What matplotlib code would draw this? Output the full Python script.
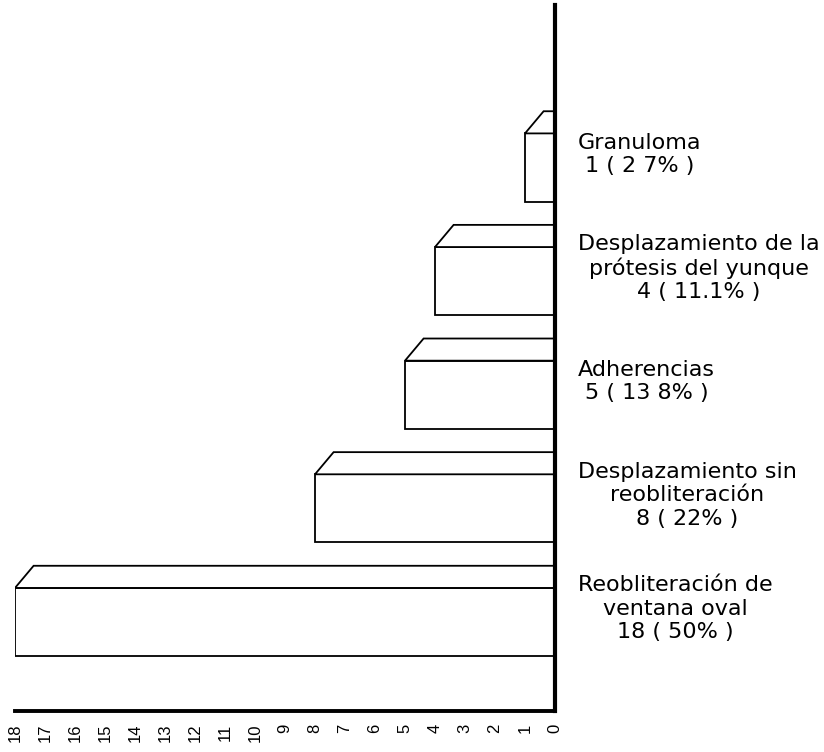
import matplotlib
matplotlib.use("Agg")
import matplotlib.pyplot as plt
from matplotlib.patches import Polygon

categories = [
    "Reobliteración de\nventana oval",
    "Desplazamiento sin\nreobliteración",
    "Adherencias",
    "Desplazamiento de la\nprótesis del yunque",
    "Granuloma",
]
values = [18, 8, 5, 4, 1]
pct_labels = ["18 ( 50% )", "8 ( 22% )", "5 ( 13 8% )", "4 ( 11.1% )", "1 ( 2 7% )"]
ticks = list(range(0, 19))

plt.rcParams['font.family'] = ['DejaVu Sans']

fig = plt.figure(figsize=(8.24, 7.52), dpi=100)
W, H = 824, 752
left_px, right_px, top_px, bot_px = 15, 555, 5, 711
ax = fig.add_axes([left_px / W, 1 - bot_px / H, (right_px - left_px) / W, (bot_px - top_px) / H])

ax.set_xlim(18, 0)
ax.set_ylim(-0.783, 5.43)

bar_h = 0.6
dx = 0.62
dy = 0.195
lw = 1.3

ys = list(range(len(values)))
ax.barh(ys, values, height=bar_h, color='white', edgecolor='black', linewidth=lw, zorder=2)
for y, v in zip(ys, values):
    top = y + bar_h / 2
    poly = Polygon([(v, top), (v - dx, top + dy), (0, top + dy), (0, top)],
                   closed=True, facecolor='white', edgecolor='black', linewidth=lw, zorder=2)
    ax.add_patch(poly)

for y, cat, pl in zip(ys, categories, pct_labels):
    ax.annotate(cat + "\n" + pl, xy=(0, y + dy / 2), xytext=(23, 2), textcoords='offset pixels',
                ha='left', va='center', multialignment='center', fontsize=16,
                linespacing=1.22, annotation_clip=False)

for s in ['top', 'left']:
    ax.spines[s].set_visible(False)
ax.spines['right'].set_linewidth(3)
ax.spines['bottom'].set_linewidth(2.8)
ax.spines['right'].set_zorder(3)

ax.set_xticks(ticks)
ax.set_xticklabels([str(t) for t in ticks], rotation=90, fontsize=12,
                   family='Liberation Sans', va='top')
ax.tick_params(axis='x', length=0, pad=9)
ax.set_yticks([])

fig.savefig("out.png", dpi=100)
